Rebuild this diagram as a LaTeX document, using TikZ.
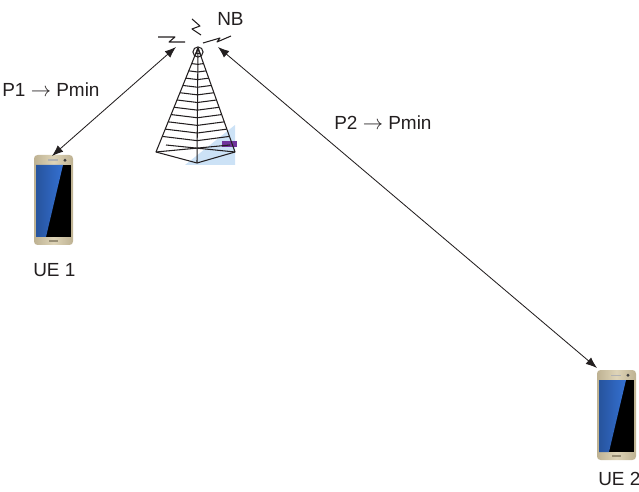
\documentclass[tikz,border=0pt]{standalone}
\usepackage{fontspec}
\setmainfont{Liberation Sans}
\usetikzlibrary{arrows.meta,calc}

\definecolor{ink}{RGB}{35,31,32}
\definecolor{towerblue}{RGB}{204,226,246}
\definecolor{antpurple}{RGB}{112,52,156}
\definecolor{phonegold}{RGB}{222,212,184}
\definecolor{phonedark}{RGB}{190,178,146}
\definecolor{screenblue}{RGB}{52,112,210}

\tikzset{
    link/.style={ink, line width=0.6pt, {Latex[length=8pt,width=6pt]}-{Latex[length=8pt,width=6pt]}},
    txt/.style={font=\fontsize{13.5}{16}\selectfont, text=ink, inner sep=0pt, anchor=base west},
    mast/.style={ink, line width=0.75pt, line join=round},
    phone/.pic={
        % body, screen and the curved blue wallpaper
        \shade[rounded corners=2.5pt, left color=phonedark, right color=phonedark, middle color=phonegold] (0,0) rectangle (39,90);
        \fill[black] (2,10) rectangle (37,82);
        \shade[left color=screenblue!75!black, right color=screenblue] (2,10) -- (29,10) -- (12,82) -- (2,82) -- cycle;
        \fill[gray!60] (14,4.5) rectangle (24,6);
        \fill[gray!50!black] (31,5.2) circle (1.2pt);
        \fill[phonedark!80!black] (15,85) rectangle (24,87);
    }
}

\begin{document}
\begin{tikzpicture}[x=0.025cm,y=-0.025cm]
    \useasboundingbox (0,0) rectangle (639,492);

    % Draw the base station
    \fill[towerblue] (185,165) -- (235,125) -- (235,165) -- cycle;
    \fill[antpurple] (222,141) rectangle (237,147);

    \coordinate (nb-top) at (198,48);
    \coordinate (nb-bl) at (156,152);
    \coordinate (nb-bf) at (197,163);
    \coordinate (nb-br) at (235,152);
    \coordinate (nb-mid) at (197,157);

    \draw[mast] (nb-top) -- (nb-bl) -- (nb-bf) -- (nb-br) -- cycle;
    \draw[mast] (nb-top) -- (nb-bf);
    \draw[mast] (nb-bl) -- (230,145);
    \draw[mast] (166,145) -- (nb-br);
    \foreach \f in {0.15,0.22,...,0.86}
        \draw[mast] ($(nb-top)!\f!(nb-bl)$) -- ($(nb-top)!\f!(nb-mid)$) -- ($(nb-top)!\f!(nb-br)$);

    % antenna head
    \draw[mast] (198,52) circle (3.6pt);
    \draw[mast] (194.8,56.5) -- (nb-top) -- (201.2,56.5);
    \draw[mast] (195.8,53.5) -- (200.2,53.5);

    % radio bolts
    \draw[mast] (158,37) -- (175,37) -- (169,42) -- (185,42);
    \draw[mast] (192,19) -- (200,26) -- (192,29) -- (201,35);
    \draw[mast] (203,43) -- (220,38) -- (217,42) -- (231,36);

    \node[txt] (nb) at (217,26) {NB};

    % Draw the phones
    \pic at (34,155) {phone};
    \pic at (597,370) {phone};
    \node[txt] (ue1) at (33,277) {UE 1};
    \node[txt] (ue2) at (598,485) {UE 2};

    % Draw the links
    \coordinate (nb-l) at (176,47);
    \coordinate (nb-r) at (218,47);
    \coordinate (ue1-in) at (52,156);
    \coordinate (ue2-in) at (597,368);
    \draw[link] (nb-l) -- (ue1-in);
    \draw[link] (nb-r) -- (ue2-in);

    \node[txt] (p1) at (2,97) {P1 $\rightarrow$ Pmin};
    \node[txt] (p2) at (334,130) {P2 $\rightarrow$ Pmin};
\end{tikzpicture}
\end{document}
